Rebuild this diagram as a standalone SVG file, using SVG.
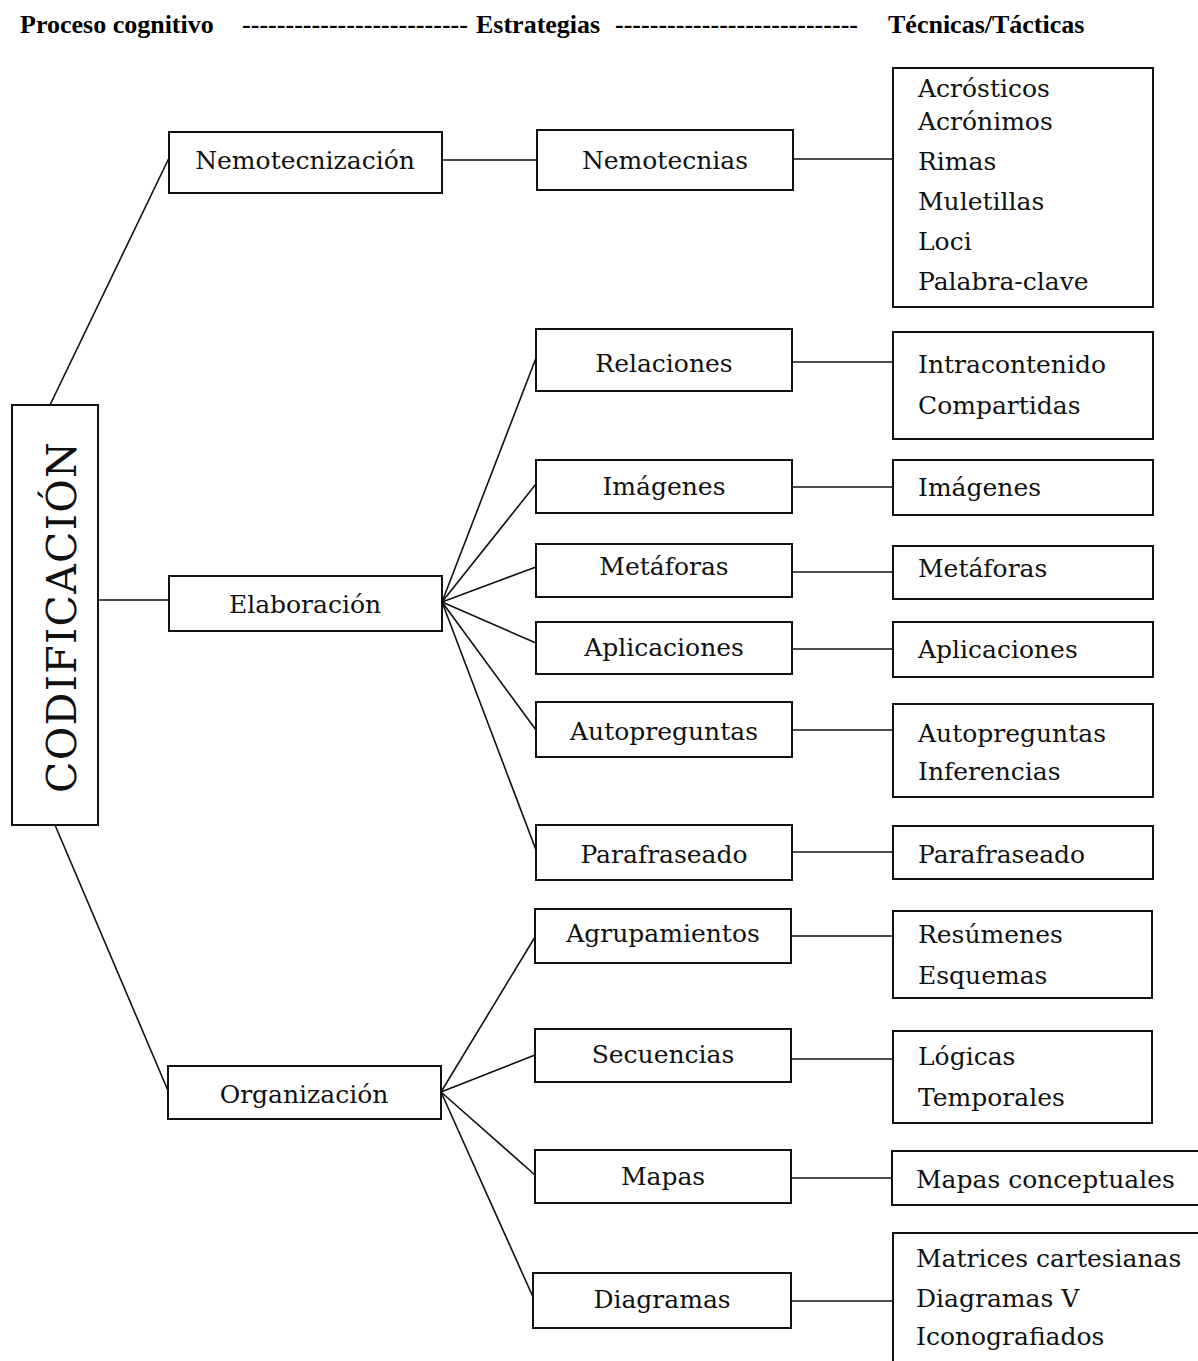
<svg xmlns="http://www.w3.org/2000/svg" width="1198" height="1361" viewBox="0 0 1198 1361">
<style>
.hdr{font-family:"Liberation Serif","Times New Roman",serif;font-weight:bold;font-size:26px;fill:#000}
.box{fill:#fff;stroke:#111;stroke-width:2}
.t{font-family:"DejaVu Serif",serif;font-size:25px;fill:#111}
.c{text-anchor:middle}
.big{font-family:"DejaVu Serif",serif;font-size:41px;fill:#111}
.ln{stroke:#111;stroke-width:1.6;fill:none}
</style>
<rect width="1198" height="1361" fill="#fff"/>
<g id="header">
<text class="hdr" x="20" y="33">Proceso cognitivo</text>
<text class="hdr" x="242" y="33" textLength="226" lengthAdjust="spacingAndGlyphs">--------------------------</text>
<text class="hdr" x="476" y="33">Estrategias</text>
<text class="hdr" x="615" y="33" textLength="243" lengthAdjust="spacingAndGlyphs">----------------------------</text>
<text class="hdr" x="888" y="33">Técnicas/Tácticas</text>
</g>
<g id="connectors">
<line class="ln" x1="50" y1="405" x2="169" y2="158"/>
<line class="ln" x1="98" y1="600" x2="169" y2="600"/>
<line class="ln" x1="55" y1="825" x2="169" y2="1093"/>
<line class="ln" x1="442" y1="160" x2="537" y2="160"/>
<line class="ln" x1="793" y1="159" x2="893" y2="159"/>
<line class="ln" x1="442" y1="602" x2="536" y2="358"/>
<line class="ln" x1="442" y1="602" x2="536" y2="484"/>
<line class="ln" x1="442" y1="602" x2="536" y2="567"/>
<line class="ln" x1="442" y1="602" x2="536" y2="643"/>
<line class="ln" x1="442" y1="602" x2="536" y2="730"/>
<line class="ln" x1="442" y1="602" x2="536" y2="850"/>
<line class="ln" x1="441" y1="1092" x2="535" y2="937"/>
<line class="ln" x1="441" y1="1092" x2="535" y2="1055"/>
<line class="ln" x1="441" y1="1092" x2="535" y2="1175"/>
<line class="ln" x1="441" y1="1092" x2="533" y2="1297"/>
<line class="ln" x1="792" y1="362" x2="893" y2="362"/>
<line class="ln" x1="792" y1="487" x2="893" y2="487"/>
<line class="ln" x1="792" y1="572" x2="893" y2="572"/>
<line class="ln" x1="792" y1="649" x2="893" y2="649"/>
<line class="ln" x1="792" y1="730" x2="893" y2="730"/>
<line class="ln" x1="792" y1="852" x2="893" y2="852"/>
<line class="ln" x1="791" y1="936" x2="893" y2="936"/>
<line class="ln" x1="791" y1="1059" x2="893" y2="1059"/>
<line class="ln" x1="791" y1="1178" x2="892" y2="1178"/>
<line class="ln" x1="791" y1="1301" x2="893" y2="1301"/>
</g>
<g id="codificacion">
<rect class="box" x="12" y="405" width="86" height="420"/>
<text class="big" transform="translate(76,793) rotate(-90)" textLength="351" lengthAdjust="spacing">CODIFICACIÓN</text>
</g>
<g id="nemotecnizacion"><rect class="box" x="169" y="132" width="273" height="61"/><text class="t c" x="305" y="169">Nemotecnización</text></g>
<g id="elaboracion"><rect class="box" x="169" y="576" width="273" height="55"/><text class="t c" x="305" y="613">Elaboración</text></g>
<g id="organizacion"><rect class="box" x="168" y="1066" width="273" height="53"/><text class="t c" x="304" y="1103">Organización</text></g>
<g id="nemotecnias"><rect class="box" x="537" y="130" width="256" height="60"/><text class="t c" x="665" y="169">Nemotecnias</text></g>
<g id="relaciones"><rect class="box" x="536" y="329" width="256" height="62"/><text class="t c" x="664" y="372">Relaciones</text></g>
<g id="imagenes"><rect class="box" x="536" y="460" width="256" height="53"/><text class="t c" x="664" y="495">Imágenes</text></g>
<g id="metaforas"><rect class="box" x="536" y="544" width="256" height="53"/><text class="t c" x="664" y="575">Metáforas</text></g>
<g id="aplicaciones"><rect class="box" x="536" y="622" width="256" height="52"/><text class="t c" x="664" y="656">Aplicaciones</text></g>
<g id="autopreguntas"><rect class="box" x="536" y="702" width="256" height="55"/><text class="t c" x="664" y="740">Autopreguntas</text></g>
<g id="parafraseado"><rect class="box" x="536" y="825" width="256" height="55"/><text class="t c" x="664" y="863">Parafraseado</text></g>
<g id="agrupamientos"><rect class="box" x="535" y="909" width="256" height="54"/><text class="t c" x="663" y="942">Agrupamientos</text></g>
<g id="secuencias"><rect class="box" x="535" y="1029" width="256" height="53"/><text class="t c" x="663" y="1063">Secuencias</text></g>
<g id="mapas"><rect class="box" x="535" y="1150" width="256" height="53"/><text class="t c" x="663" y="1185">Mapas</text></g>
<g id="diagramas"><rect class="box" x="533" y="1273" width="258" height="55"/><text class="t c" x="662" y="1308">Diagramas</text></g>
<g id="tec-nemotecnias"><rect class="box" x="893" y="68" width="260" height="239"/>
<text class="t" x="918" y="97">Acrósticos</text><text class="t" x="918" y="130">Acrónimos</text><text class="t" x="918" y="170">Rimas</text><text class="t" x="918" y="210">Muletillas</text><text class="t" x="918" y="250">Loci</text><text class="t" x="918" y="290">Palabra-clave</text></g>
<g id="tec-relaciones"><rect class="box" x="893" y="332" width="260" height="107"/><text class="t" x="918" y="373">Intracontenido</text><text class="t" x="918" y="414">Compartidas</text></g>
<g id="tec-imagenes"><rect class="box" x="893" y="460" width="260" height="55"/><text class="t" x="918" y="496">Imágenes</text></g>
<g id="tec-metaforas"><rect class="box" x="893" y="546" width="260" height="53"/><text class="t" x="918" y="577">Metáforas</text></g>
<g id="tec-aplicaciones"><rect class="box" x="893" y="622" width="260" height="55"/><text class="t" x="918" y="658">Aplicaciones</text></g>
<g id="tec-autopreguntas"><rect class="box" x="893" y="704" width="260" height="93"/><text class="t" x="918" y="742">Autopreguntas</text><text class="t" x="918" y="780">Inferencias</text></g>
<g id="tec-parafraseado"><rect class="box" x="893" y="826" width="260" height="53"/><text class="t" x="918" y="863">Parafraseado</text></g>
<g id="tec-agrupamientos"><rect class="box" x="893" y="911" width="259" height="87"/><text class="t" x="918" y="943">Resúmenes</text><text class="t" x="918" y="984">Esquemas</text></g>
<g id="tec-secuencias"><rect class="box" x="893" y="1031" width="259" height="92"/><text class="t" x="918" y="1065">Lógicas</text><text class="t" x="918" y="1106">Temporales</text></g>
<g id="tec-mapas"><rect class="box" x="892" y="1151" width="330" height="54"/><text class="t" x="916" y="1188">Mapas conceptuales</text></g>
<g id="tec-diagramas"><rect class="box" x="893" y="1233" width="330" height="200"/><text class="t" x="916" y="1267">Matrices cartesianas</text><text class="t" x="916" y="1307">Diagramas V</text><text class="t" x="916" y="1345">Iconografiados</text></g>
</svg>
